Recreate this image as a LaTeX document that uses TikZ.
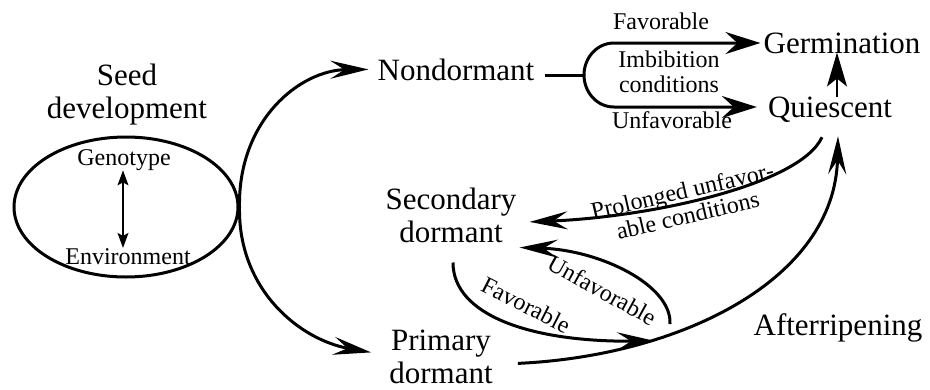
\documentclass[tikz,border=0pt]{standalone}
\usepackage{fontspec}
\setmainfont{Liberation Serif}
\usetikzlibrary{arrows.meta,shapes.geometric}
\begin{document}
\begin{tikzpicture}[x=1pt,y=-1pt,
  big/.style={font=\fontsize{31}{33}\selectfont, align=center, inner sep=0pt, anchor=base},
  small/.style={font=\fontsize{24}{25}\selectfont, align=center, inner sep=0pt},
  line/.style={line width=3pt},
  conn/.style={line width=3pt, -{Stealth[length=38pt,width=18pt,inset=14pt]}},
  fork/.style={line width=3pt, -{Stealth[length=35pt,width=22pt,inset=12pt]}},
  thin/.style={line width=1.2pt, {Stealth[length=15pt,width=11pt,inset=3pt]}-{Stealth[length=15pt,width=11pt,inset=3pt]}}
]
\useasboundingbox (0,0) rectangle (930,389);

% nodes (anchor base = baseline of the last line)
\node[big] (seed) at (127,118) {Seed\\development};
\node[draw, ellipse, line width=3pt, minimum width=224pt, minimum height=140pt] (ell) at (126,207) {};
\node[small, anchor=base] (geno) at (124,165) {Genotype};
\node[small, anchor=base] (env) at (128,264) {Environment};
\node[big] (nd) at (456,80) {Nondormant};
\node[big] (germ) at (842,53) {Germination};
\node[big] (qui) at (830,117) {Quiescent};
\node[big] (sec) at (451,242) {Secondary\\dormant};
\node[big] (pri) at (441,383) {Primary\\dormant};
\node[big] (after) at (838,335) {Afterripening};

% helper coordinates
\coordinate (dax) at (123,0);
\coordinate (fk) at (584,75);
\coordinate (fkU) at (614,43);
\coordinate (fkD) at (614,107);
\coordinate (arx) at (837,0);
\coordinate (mj) at (655,341);
\coordinate (un) at (670,324);

% genotype <-> environment
\draw[thin] (geno.south -| dax) -- (env.north -| dax);

% seed development to nondormant / primary dormant
\draw[conn] (ell.east) .. controls (238,120) and (300,70) .. ([xshift=-9pt]nd.west);
\draw[conn] (ell.east) .. controls (238,290) and (300,340) .. ([xshift=-18pt,yshift=4pt]pri.west);

% nondormant fork
\draw[line] ([xshift=10pt]nd.east |- fk) -- (fk);
\draw[fork] (fk) to[out=90,in=180] (fkU) -- ([xshift=-3pt]germ.west |- fkU);
\draw[fork] (fk) to[out=-90,in=180] (fkD) -- ([xshift=-11pt]qui.west |- fkD);
\node[small, anchor=base] (lfav) at (661,29) {Favorable};
\node[small, anchor=base] (limb) at (669,92) {Imbibition\\conditions};
\node[small, anchor=base] (lunf) at (672,128) {Unfavorable};

% quiescent -> germination
\draw[line width=1.2pt, -{Stealth[length=34pt,width=20pt,inset=8pt]}] ([yshift=-1pt]qui.north -| arx) -- ([yshift=1pt]germ.south -| arx);

% quiescent -> secondary dormant
\draw[conn] ([xshift=-8pt,yshift=-15pt]qui.south) .. controls (800,185) and (650,217) .. ([xshift=13pt,yshift=-7pt]sec.east);
\node[small, rotate=13] (lprol) at (685,203) {Prolonged unfavor-\\able conditions};

% secondary -> primary (favorable)
\draw[conn] ([xshift=2pt,yshift=-20pt]sec.south) .. controls (453,315) and (530,342) .. (mj);
\node[small, rotate=-27] (lfav2) at (526,305) {Favorable};

% unfavorable back to secondary
\draw[conn] (un) .. controls (672,285) and (600,250) .. ([xshift=3pt,yshift=-5pt]sec.south east);
\node[small, rotate=-29] (lunf2) at (602,290) {Unfavorable};

% primary -> quiescent (afterripening)
\draw[conn] ([xshift=25pt,yshift=-7pt]pri.east) .. controls (680,356) and (835,280) .. ([xshift=8pt,yshift=-14pt]qui.south);
\end{tikzpicture}
\end{document}
